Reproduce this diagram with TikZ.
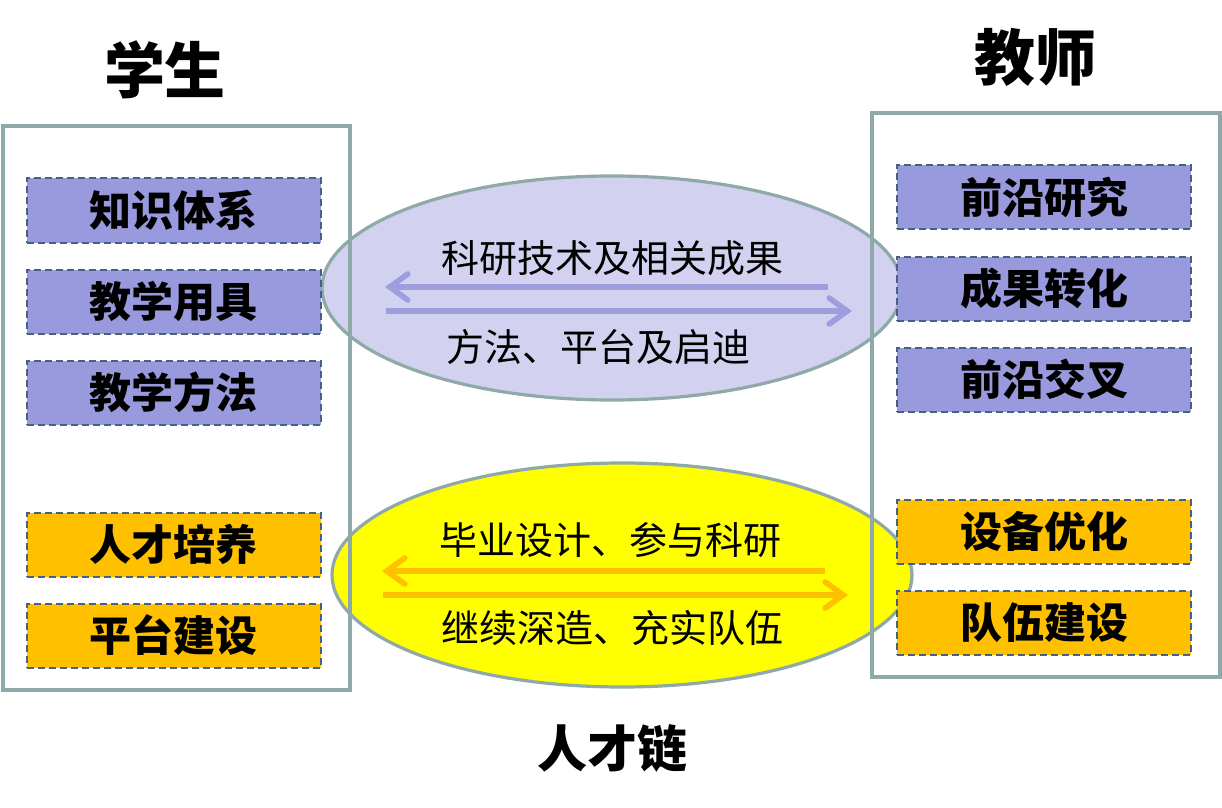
\documentclass[tikz,border=0pt]{standalone}
\usepackage{fontspec}
\newfontfamily\cjk{Noto Sans CJK SC}
\usepackage{tikz}
\usetikzlibrary{arrows.meta,shapes.geometric,positioning}
\definecolor{BoxLavender}{HTML}{9999DD}
\definecolor{BoxOrange}{HTML}{FFC000}
\definecolor{BoxEdge}{HTML}{46627F}
\definecolor{PanelGrey}{HTML}{8FA8A8}
\definecolor{LinkLavender}{HTML}{D2D2F0}
\definecolor{LinkYellow}{HTML}{FFFF00}
\definecolor{ArrowLavender}{HTML}{9E9EDE}

\begin{document}
\begin{tikzpicture}[x=0.5pt,y=-0.5pt,
    every node/.style={font=\cjk},
    title/.style={font=\cjk\bfseries\fontsize{30.5}{34}\selectfont},
    panel/.style={draw=PanelGrey,line width=2pt},
    itembox/.style={draw=BoxEdge,dashed,dash pattern=on 3.5pt off 2pt,line width=1pt,
        minimum width=147pt,minimum height=32pt,inner sep=0pt,
        font=\cjk\bfseries\fontsize{21}{24}\selectfont},
    know/.style={itembox,fill=BoxLavender},
    talent/.style={itembox,fill=BoxOrange},
    link/.style={ellipse,draw=PanelGrey,line width=1.6pt,minimum width=290pt,minimum height=112pt},
    linktext/.style={font=\cjk\fontsize{19}{22}\selectfont},
    flow/.style={line width=2.8pt,-{Straight Barb[length=9pt,width=13pt,line cap=round]}},
    node distance=12.5pt]
    \useasboundingbox (0,0) rectangle (1222,808);

    \node[link,fill=LinkLavender] (linkTop) at (612,288) {};
    \node[link,fill=LinkYellow] (linkBot) at (622,575) {};

    \coordinate (tA) at (828,287);
    \coordinate (tB) at (385,287);
    \coordinate (tC) at (386,311);
    \coordinate (tD) at (852,311);
    \coordinate (bA) at (825,571);
    \coordinate (bB) at (382,571);
    \coordinate (bC) at (383,595);
    \coordinate (bD) at (848,595);
    \draw[flow,ArrowLavender] (tA) -- (tB);
    \draw[flow,ArrowLavender] (tC) -- (tD);
    \draw[flow,BoxOrange] (bA) -- (bB);
    \draw[flow,BoxOrange] (bC) -- (bD);

    \node[linktext] (resTxt) at (612,258) {科研技术及相关成果};
    \node[linktext] (methTxt) at (598,347) {方法、平台及启迪};
    \node[linktext] (gradTxt) at (610,540) {毕业设计、参与科研};
    \node[linktext] (teamTxt) at (612,628) {继续深造、充实队伍};

    \draw[panel] (3,126) rectangle (350,690);
    \draw[panel] (872,113) rectangle (1220,677);

    \node[title] (student) at (165,70) {学生};
    \node[title] (teacher) at (1035,57) {教师};
    \node[font=\cjk\bfseries\fontsize{25}{28}\selectfont] (chain) at (612,748) {人才链};

    \node[know] (s1) at (174,210.5) {知识体系};
    \node[know,below=of s1] (s2) {教学用具};
    \node[know,below=of s2] (s3) {教学方法};
    \node[talent,below=43pt of s3] (s4) {人才培养};
    \node[talent,below=of s4] (s5) {平台建设};

    \node[know] (t1) at (1044,197.5) {前沿研究};
    \node[know,below=of t1] (t2) {成果转化};
    \node[know,below=of t2] (t3) {前沿交叉};
    \node[talent,below=43pt of t3] (t4) {设备优化};
    \node[talent,below=of t4] (t5) {队伍建设};
\end{tikzpicture}
\end{document}
